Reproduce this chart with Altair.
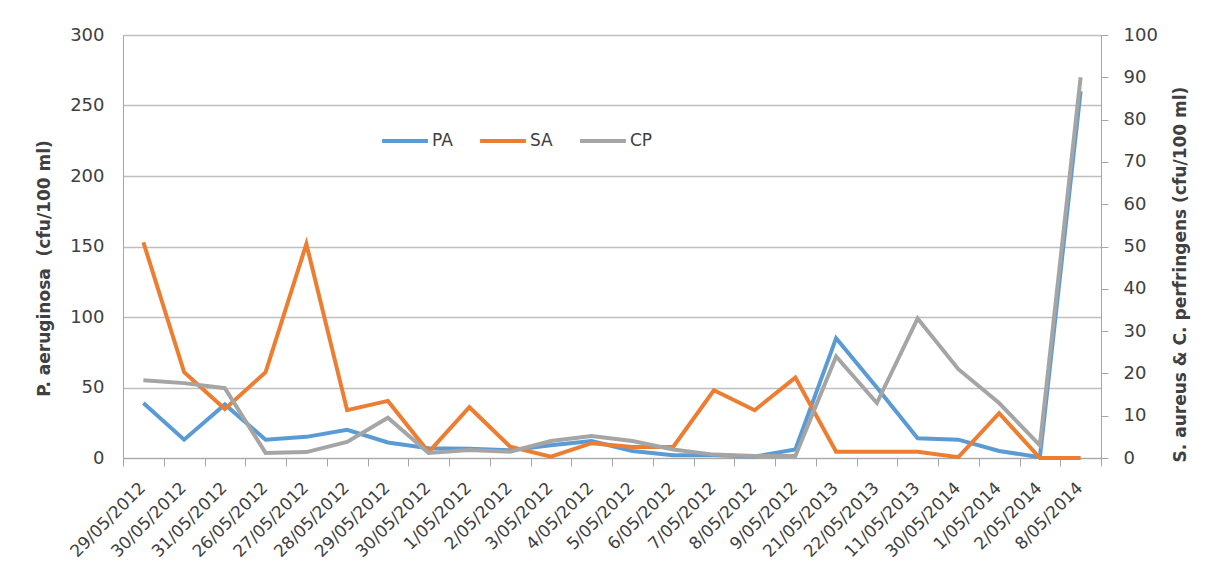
import altair as alt
import pandas as pd

labels = ["29/05/2012", "30/05/2012", "31/05/2012", "26/05/2012", "27/05/2012", "28/05/2012",
          "29/05/2012", "30/05/2012", "1/05/2012", "2/05/2012", "3/05/2012", "4/05/2012",
          "5/05/2012", "6/05/2012", "7/05/2012", "8/05/2012", "9/05/2012", "21/05/2013",
          "22/05/2013", "11/05/2013", "30/05/2014", "1/05/2014", "2/05/2014", "8/05/2014"]
pa = [39, 13, 38, 13, 15, 20, 11, 7, 6.5, 5.5, 9, 12, 5, 2, 2, 1, 6, 85, 50, 14, 13, 5, 0.5, 260]
sa = [51, 20.3, 11.6, 20.3, 50.6, 11.3, 13.5, 1.4, 12, 2.7, 0.3, 3.5, 2.6, 2.6, 16, 11.3, 19, 1.5,
      1.5, 1.5, 0.2, 10.6, 0, 0]
cp = [18.4, 17.7, 16.5, 1.2, 1.4, 3.8, 9.5, 1.2, 1.9, 1.5, 4, 5.2, 4, 2, 0.8, 0.5, 0.5, 24,
      13, 33, 21, 13, 3, 90]

series = ["PA", "SA", "CP"]
colors = ["#5B9BD5", "#ED7D31", "#A5A5A5"]

df_left = pd.DataFrame({"idx": range(len(labels)), "value": pa, "series": "PA"})
df_right = pd.concat([
    pd.DataFrame({"idx": range(len(labels)), "value": sa, "series": "SA"}),
    pd.DataFrame({"idx": range(len(labels)), "value": cp, "series": "CP"}),
])

label_expr = "[" + ",".join("'" + l + "'" for l in labels) + "][datum.value]"
FONT = "DejaVu Sans"
TXT = "#404040"

x_enc = alt.X(
    "idx:O",
    bandPosition=0.5,
    scale=alt.Scale(type="band", paddingInner=0, paddingOuter=0),
    axis=alt.Axis(
        title=None, labelExpr=label_expr, labelAngle=-45, labelAlign="right",
        labelBaseline="middle", labelFontSize=17, labelColor=TXT, labelFont=FONT,
        tickBand="extent", tickColor="#A6A6A6", tickSize=8, domainColor="#A6A6A6",
        grid=False, labelPadding=19, labelOverlap=False, labelOffset=-1,
    ),
)

color_enc = alt.Color(
    "series:N",
    scale=alt.Scale(domain=series, range=colors),
    legend=alt.Legend(
        title=None, orient="none", legendX=257, legendY=81, direction="horizontal",
        symbolType="stroke", symbolSize=2100, symbolStrokeWidth=4,
        labelFontSize=17, labelFont=FONT, labelColor=TXT, columnPadding=19,
        labelOffset=2,
    ),
)

left = alt.Chart(df_left).mark_line(strokeWidth=4).encode(
    x=x_enc,
    y=alt.Y(
        "value:Q",
        scale=alt.Scale(domain=[0, 300], nice=False),
        axis=alt.Axis(
            title="P. aeruginosa\u00a0\u00a0(cfu/100 ml)", values=[0, 50, 100, 150, 200, 250, 300],
            titleFontSize=17, titleFont=FONT, titleFontWeight="bold", titleColor=TXT,
            titleX=-79, titleY=233, titleAngle=270, titleAlign="center", titleBaseline="middle",
            labelFontSize=18, labelFont=FONT, labelColor=TXT, labelPadding=19,
            ticks=False, domainColor="#A6A6A6", gridColor="#BFBFBF", gridWidth=1.3,
        ),
    ),
    color=color_enc,
)

right = alt.Chart(df_right).mark_line(strokeWidth=4).encode(
    x=x_enc,
    y=alt.Y(
        "value:Q",
        scale=alt.Scale(domain=[0, 100], nice=False),
        axis=alt.Axis(
            orient="right", title="S. aureus & C. perfringens (cfu/100 ml)",
            values=list(range(0, 101, 10)),
            titleFontSize=17, titleFont=FONT, titleFontWeight="bold", titleColor=TXT,
            titleX=79, titleY=239, titleAngle=270, titleAlign="center", titleBaseline="middle",
            labelFontSize=18, labelFont=FONT, labelColor=TXT, labelPadding=15,
            tickColor="#A6A6A6", tickSize=7, domainColor="#A6A6A6", grid=False,
        ),
    ),
    color=color_enc,
    order=alt.Order("series:N"),
)

chart = alt.layer(left, right).resolve_scale(y="independent").properties(
    width=978, height=423,
    autosize=alt.AutoSizeParams(type="none"),
    padding={"left": 115, "top": 27, "right": 103, "bottom": 117},
).configure_view(stroke=None).configure(background="white")

chart.save("out.html", embed_options={"renderer": "svg", "actions": False})
